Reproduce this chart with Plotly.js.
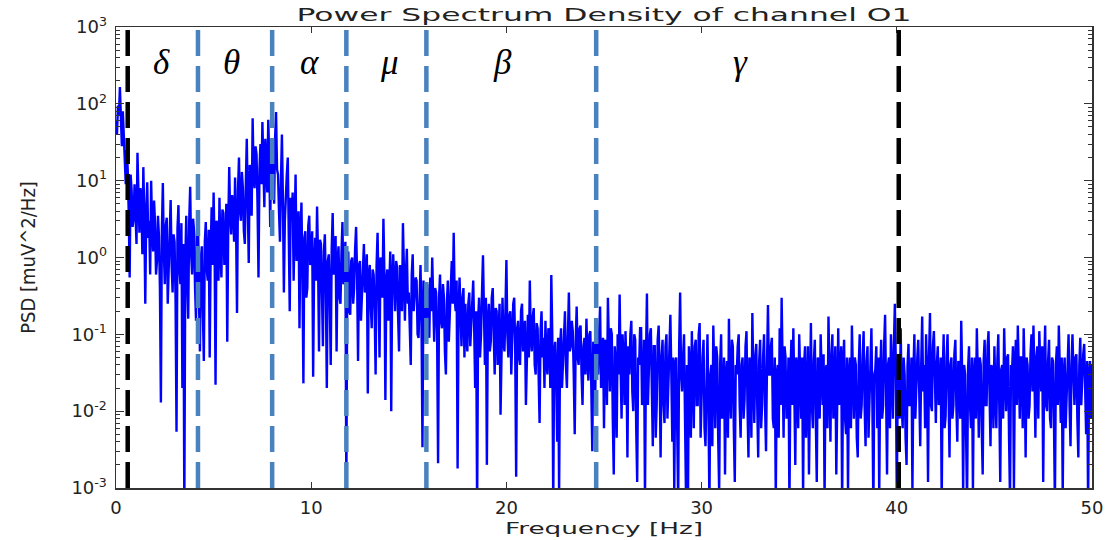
<!DOCTYPE html>
<html>
<head>
<meta charset="utf-8">
<script src="https://cdn.plot.ly/plotly-3.0.1.min.js"></script>
<style>
  html, body { margin: 0; padding: 0; background: #fff; }
  #chart { width: 1115px; height: 540px; }
</style>
</head>
<body>
<div id="chart"></div>
<script>
// Frequency resolution of the spectrum (Hz per bin)
const freqStep = 0.05;

// PSD of channel O1 [muV^2/Hz], one array per 10 Hz stretch, 20 bins per line (1 Hz)
const psd00to10 = [
  60, 40, 95, 70, 165, 50, 28, 80, 36, 20, 9, 25, 14, 4, 0.55, 12, 7.5, 2.5, 3.2, 9,
  4.5, 1.5, 23, 5, 2.1, 8, 6.0, 1.1, 15, 3.5, 0.25, 4, 9.5, 1.8, 3.0, 0.6, 10, 2.4, 1.2, 5.5,
  2.8, 0.6, 0.9, 3.5, 1.9, 0.4, 0.013, 2.2, 9.3, 1.2, 0.45, 2.6, 3.3, 0.25, 0.7, 2.9, 5.6, 0.8, 0.35, 2.0,
  1.6, 0.3, 0.0054, 2.4, 4.8, 0.7, 0.45, 2.8, 0.02, 1.5, 0.0005, 0.9, 3.5, 0.5, 0.16, 3.0, 8.3, 1.1, 0.6, 3.2,
  2.2, 0.4, 0.15, 1.9, 3.6, 0.3, 0.06, 1.0, 1.4, 0.2, 0.045, 1.6, 2.9, 0.7, 0.5, 2.3, 0.05, 1.2, 4.5, 0.8,
  7.0, 1.4, 0.022, 3.0, 2.6, 0.5, 6.0, 1.2, 0.55, 4.2, 3.8, 0.8, 1.1, 5.0, 0.08, 2.4, 15, 3.5, 2.0, 6.5,
  4.5, 1.6, 11, 2.5, 0.19, 7.5, 20, 4.0, 3.0, 13, 8.0, 2.2, 1.5, 9.0, 35, 5.0, 0.85, 16, 12, 3.5,
  65, 12, 8, 28, 22, 5, 0.55, 14, 30, 9, 58, 16, 4.5, 35, 18, 7, 62, 20, 2.5, 30,
  26, 9, 5.0, 35, 78, 14, 12, 4, 1.6, 10, 40, 6, 0.35, 3, 7.0, 12, 20, 2.5, 0.2, 6,
  3.0, 7, 0.5, 2.5, 12, 0.9, 1.3, 4, 0.12, 2.0, 5.2, 0.6, 0.023, 1.8, 2.2, 0.3, 0.4, 2.6, 3.5, 0.8
];
const psd10to20 = [
  0.9, 2.2, 0.028, 0.8, 1.8, 0.5, 4.6, 1.0, 0.06, 1.7, 1.5, 0.35, 0.07, 1.2, 2.0, 0.4, 0.02, 0.9, 1.1, 0.3,
  0.04, 1.3, 3.8, 0.6, 0.8, 1.9, 0.06, 0.9, 1.4, 0.3, 0.25, 1.1, 2.9, 0.45, 0.5, 1.6, 0.0009, 0.7, 1.2, 0.2,
  0.18, 0.9, 1.0, 0.25, 0.4, 1.3, 2.5, 0.6, 0.045, 0.8, 0.9, 0.15, 0.3, 1.0, 1.5, 0.35, 0.45, 1.1, 0.017, 0.6,
  0.8, 0.25, 0.12, 0.7, 0.6, 0.2, 0.03, 0.8, 2.1, 0.4, 0.05, 1.0, 0.9, 0.3, 3.2, 0.6, 0.014, 0.5, 0.7, 0.15,
  0.45, 1.2, 0.01, 0.5, 1.1, 0.3, 0.2, 0.9, 0.75, 0.18, 0.06, 0.8, 0.5, 0.2, 2.8, 0.7, 0.15, 0.6, 1.3, 0.25,
  0.35, 0.12, 0.04, 0.6, 1.1, 0.2, 0.3, 0.55, 0.5, 0.1, 0.09, 0.4, 0.8, 0.15, 0.0034, 0.5, 0.4, 0.08, 0.15, 0.45,
  0.25, 0.09, 0.55, 0.2, 1.0, 0.3, 0.08, 0.4, 0.35, 0.1, 0.0021, 0.3, 0.6, 0.15, 0.12, 0.45, 0.3, 0.06, 0.03, 0.25,
  0.5, 0.08, 0.15, 0.4, 0.9, 0.25, 2.1, 0.3, 0.2, 0.5, 0.0018, 0.2, 0.55, 0.12, 0.07, 0.3, 0.4, 0.05, 0.25, 0.1,
  0.06, 0.25, 0.35, 0.07, 0.15, 0.4, 0.5, 0.12, 0.02, 0.2, 0.0005, 0.15, 0.3, 0.05, 0.1, 0.35, 1.07, 0.2, 0.04, 0.3,
  0.002, 0.15, 0.25, 0.06, 0.08, 0.3, 0.4, 0.1, 0.03, 0.22, 0.2, 0.04, 0.12, 0.25, 0.009, 0.15, 0.3, 0.08, 0.06, 0.2
];
const psd20to30 = [
  0.93, 0.1, 0.05, 0.18, 0.2, 0.03, 0.1, 0.25, 0.3, 0.07, 0.0014, 0.12, 0.15, 0.05, 0.04, 0.2, 0.25, 0.06, 0.08, 0.15,
  0.012, 0.1, 0.18, 0.05, 0.5, 0.09, 0.06, 0.17, 0.22, 0.04, 0.03, 0.14, 0.12, 0.03, 0.007, 0.11, 0.2, 0.05, 0.09, 0.02,
  0.15, 0.05, 0.03, 0.12, 0.1, 0.02, 0.59, 0.1, 0.0006, 0.06, 0.08, 0.03, 0.004, 0.09, 0.0008, 0.07, 0.12, 0.02, 0.05, 0.13,
  0.2, 0.04, 0.02, 0.09, 0.35, 0.06, 0.07, 0.15, 0.11, 0.03, 0.005, 0.08, 0.23, 0.05, 0.04, 0.12, 0.13, 0.03, 0.012, 0.07,
  0.09, 0.03, 0.16, 0.05, 0.025, 0.1, 0.11, 0.02, 0.003, 0.08, 0.07, 0.015, 0.14, 0.04, 0.03, 0.1, 0.23, 0.02, 0.05, 0.09,
  0.006, 0.085, 0.07, 0.012, 0.3, 0.05, 0.018, 0.12, 0.1, 0.008, 0.0015, 0.07, 0.04, 0.0045, 0.1, 0.03, 0.33, 0.04, 0.008, 0.1,
  0.05, 0.012, 0.11, 0.04, 0.0025, 0.07, 0.03, 0.1, 0.15, 0.018, 0.01, 0.1, 0.085, 0.006, 0.0012, 0.05, 0.04, 0.12, 0.12, 0.012,
  0.018, 0.085, 0.0007, 0.05, 0.34, 0.012, 0.035, 0.1, 0.12, 0.008, 0.0035, 0.07, 0.07, 0.0045, 0.012, 0.085, 0.13, 0.03, 0.0025, 0.05,
  0.085, 0.012, 0.007, 0.07, 0.1, 0.008, 0.03, 0.085, 0.18, 0.03, 0.004, 0.05, 0.0009, 0.04, 0.05, 0.006, 0.0006, 0.07, 0.35, 0.03,
  0.018, 0.05, 0.1, 0.008, 0.0008, 0.04, 0.0005, 0.07, 0.04, 0.0045, 0.11, 0.03, 0.006, 0.07, 0.085, 0.012, 0.012, 0.1, 0.14, 0.0045
];
const psd30to40 = [
  0.018, 0.05, 0.085, 0.006, 0.0035, 0.04, 0.1, 0.012, 0.0006, 0.03, 0.04, 0.0035, 0.13, 0.03, 0.006, 0.07, 0.05, 0.0045, 0.0009, 0.04,
  0.1, 0.008, 0.012, 0.05, 0.0015, 0.03, 0.045, 0.0045, 0.16, 0.018, 0.008, 0.085, 0.07, 0.006, 0.0012, 0.04, 0.03, 0.07, 0.1, 0.012,
  0.0045, 0.04, 0.05, 0.008, 0.014, 0.07, 0.11, 0.012, 0.0025, 0.05, 0.035, 0.0045, 0.19, 0.03, 0.007, 0.05, 0.075, 0.012, 0.0025, 0.045,
  0.085, 0.006, 0.012, 0.05, 0.1, 0.012, 0.003, 0.04, 0.24, 0.03, 0.03, 0.07, 0.09, 0.008, 0.006, 0.05, 0.0007, 0.03, 0.04, 0.0045,
  0.12, 0.012, 0.3, 0.04, 0.0045, 0.07, 0.05, 0.008, 0.01, 0.05, 0.0006, 0.03, 0.085, 0.012, 0.12, 0.018, 0.002, 0.05, 0.035, 0.006,
  0.1, 0.03, 0.008, 0.05, 0.0008, 0.04, 0.07, 0.0045, 0.028, 0.07, 0.0015, 0.035, 0.14, 0.012, 0.006, 0.045, 0.085, 0.008, 0.0012, 0.05,
  0.045, 0.008, 0.1, 0.03, 0.012, 0.055, 0.0007, 0.035, 0.04, 0.006, 0.17, 0.03, 0.004, 0.05, 0.1, 0.008, 0.018, 0.07, 0.0015, 0.04,
  0.12, 0.012, 0.03, 0.07, 0.0006, 0.04, 0.085, 0.008, 0.005, 0.05, 0.0009, 0.03, 0.05, 0.006, 0.13, 0.035, 0.008, 0.05, 0.04, 0.0045,
  0.0025, 0.04, 0.1, 0.008, 0.012, 0.05, 0.11, 0.012, 0.0035, 0.045, 0.07, 0.0045, 0.018, 0.055, 0.12, 0.012, 0.0005, 0.03, 0.035, 0.07,
  0.006, 0.05, 0.0008, 0.03, 0.085, 0.008, 0.012, 0.07, 0.18, 0.018, 0.0015, 0.04, 0.05, 0.006, 0.1, 0.03, 0.008, 0.07, 0.25, 0.04
];
const psd40to50 = [
  0.0007, 0.03, 0.04, 0.008, 0.12, 0.012, 0.006, 0.05, 0.03, 0.0045, 0.002, 0.04, 0.075, 0.012, 0.012, 0.05, 0.0009, 0.03, 0.1, 0.008,
  0.03, 0.05, 0.085, 0.008, 0.0035, 0.04, 0.17, 0.018, 0.04, 0.006, 0.1, 0.03, 0.0012, 0.05, 0.19, 0.012, 0.01, 0.07, 0.11, 0.03,
  0.007, 0.04, 0.07, 0.012, 0.018, 0.05, 0.0006, 0.03, 0.1, 0.006, 0.0085, 0.05, 0.1, 0.018, 0.0025, 0.04, 0.05, 0.008, 0.012, 0.055,
  0.085, 0.012, 0.004, 0.045, 0.04, 0.008, 0.15, 0.03, 0.0008, 0.04, 0.03, 0.0045, 0.0006, 0.035, 0.07, 0.012, 0.006, 0.05, 0.0009, 0.03,
  0.05, 0.008, 0.12, 0.03, 0.0045, 0.05, 0.04, 0.006, 0.0015, 0.045, 0.085, 0.012, 0.012, 0.07, 0.11, 0.018, 0.0035, 0.04, 0.035, 0.006,
  0.07, 0.018, 0.006, 0.045, 0.1, 0.012, 0.0012, 0.035, 0.04, 0.008, 0.12, 0.03, 0.01, 0.05, 0.055, 0.0045, 0.0007, 0.04, 0.03, 0.07,
  0.0009, 0.04, 0.085, 0.012, 0.13, 0.035, 0.008, 0.05, 0.05, 0.006, 0.12, 0.03, 0.0025, 0.05, 0.04, 0.008, 0.012, 0.055, 0.1, 0.018,
  0.13, 0.03, 0.0045, 0.05, 0.07, 0.008, 0.11, 0.04, 0.018, 0.07, 0.0012, 0.035, 0.13, 0.012, 0.01, 0.045, 0.085, 0.008, 0.006, 0.05,
  0.045, 0.008, 0.0006, 0.04, 0.07, 0.012, 0.13, 0.035, 0.007, 0.05, 0.0008, 0.03, 0.05, 0.006, 0.018, 0.05, 0.1, 0.012, 0.0035, 0.04,
  0.1, 0.03, 0.012, 0.05, 0.055, 0.008, 0.0025, 0.04, 0.09, 0.012, 0.03, 0.055, 0.075, 0.012, 0.005, 0.045, 0.0006, 0.03, 0.045, 0.008,
  0.04
];

// EEG band boundaries [Hz] and band symbols
const bandEdges = [0.6, 4.2, 8.0, 11.8, 15.9, 24.6, 40.1];
const bandNames = ['δ', 'θ', 'α', 'μ', 'β', 'γ'];

// Axis ticks
const xTickVals = [0, 10, 20, 30, 40, 50];
const yTickVals = [1e-3, 1e-2, 1e-1, 1e0, 1e1, 1e2, 1e3];
const yTickText = ['10<sup>-3</sup>', '10<sup>-2</sup>', '10<sup>-1</sup>', '10<sup>0</sup>',
                   '10<sup>1</sup>', '10<sup>2</sup>', '10<sup>3</sup>'];

// Assemble the frequency/PSD series from the 10 Hz segments
const segments = [[0, psd00to10], [10, psd10to20], [20, psd20to30], [30, psd30to40], [40, psd40to50]];
const freq = [];
const psd = [];
segments.forEach(([start, vals]) => {
  vals.forEach((v, i) => {
    freq.push(Math.round((start + i * freqStep) * 100) / 100);
    psd.push(v);
  });
});

// Minor log ticks (2..9 in every decade)
const yMinor = [];
for (let e = -3; e < 3; e++) {
  for (let m = 2; m <= 9; m++) yMinor.push(m * Math.pow(10, e));
}

const axisColor = '#333333';
const tickFont = { family: 'DejaVu Sans, sans-serif', size: 18, color: '#222222' };

const trace = {
  x: freq,
  y: psd,
  type: 'scatter',
  mode: 'lines',
  line: { color: '#0000ff', width: 2.4 },
  hoverinfo: 'x+y'
};

const shapes = bandEdges.map((f, k) => ({
  type: 'line',
  xref: 'x', yref: 'paper',
  x0: f, x1: f, y0: 0, y1: 1,
  line: {
    color: (k === 0 || k === bandEdges.length - 1) ? '#000000' : '#4a81bf',
    width: 4.5,
    dash: '26px,10px'
  },
  layer: 'above'
}));

// symbol placement inside each band (Hz)
const labelPlacement = [2.35, 5.9, 9.9, 14.0, 19.8, 32.0];
const annotations = bandNames.map((name, k) => ({
  x: labelPlacement[k],
  xref: 'x',
  y: 0.922, yref: 'paper',
  yanchor: 'middle', xanchor: 'center',
  text: '<i>' + name + '</i>',
  showarrow: false,
  font: { family: 'Liberation Serif, DejaVu Serif, serif', size: 35, color: '#000000' }
}));

const layout = {
  width: 1115,
  height: 540,
  margin: { l: 116, r: 23, t: 27, b: 52, pad: 0 },
  paper_bgcolor: '#ffffff',
  plot_bgcolor: '#ffffff',
  showlegend: false,
  title: {
    text: 'Power Spectrum Density of channel O1',
    font: { family: 'DejaVu Sans, sans-serif', size: 17, color: '#222222' },
    x: 0.5, xref: 'paper', xanchor: 'center',
    y: 0.972, yref: 'container', yanchor: 'middle'
  },
  xaxis: {
    range: [0, 50],
    tickvals: xTickVals,
    ticktext: xTickVals.map(String),
    ticks: 'inside', ticklen: 6, tickwidth: 1, tickcolor: axisColor,
    showline: true, linecolor: axisColor, linewidth: 1.5, mirror: 'ticks',
    showgrid: false, zeroline: false,
    tickfont: tickFont,
    ticklabelstandoff: 3,
    automargin: false,
    title: {
      text: 'Frequency [Hz]',
      font: { family: 'DejaVu Sans, sans-serif', size: 16, color: '#222222' },
      standoff: 5
    }
  },
  yaxis: {
    type: 'log',
    range: [-3, 3],
    tickvals: yTickVals,
    ticktext: yTickText,
    ticks: 'inside', ticklen: 8, tickwidth: 1, tickcolor: axisColor,
    minor: { tickvals: yMinor, ticks: 'inside', ticklen: 4, tickwidth: 1, tickcolor: axisColor, showgrid: false },
    showline: true, linecolor: axisColor, linewidth: 1.5, mirror: 'ticks',
    showgrid: false, zeroline: false,
    tickfont: tickFont,
    ticklabelstandoff: 4,
    automargin: false,
    title: {
      text: 'PSD [muV^2/Hz]',
      font: { family: 'Liberation Sans Narrow, DejaVu Sans Condensed, sans-serif', size: 20, color: '#222222' },
      standoff: 30
    }
  },
  shapes: shapes,
  annotations: annotations
};

Plotly.newPlot('chart', [trace], layout, { displayModeBar: false, staticPlot: true }).then(() => {
  // widen the title and the frequency label to the figure's stretched lettering
  const t = document.querySelector('#chart .gtitle');
  if (t) { t.setAttribute('textLength', '615'); t.setAttribute('lengthAdjust', 'spacingAndGlyphs'); }
  const xt = document.querySelector('#chart .xtitle');
  if (xt) { xt.setAttribute('textLength', '198'); xt.setAttribute('lengthAdjust', 'spacingAndGlyphs'); }
});
</script>
</body>
</html>
